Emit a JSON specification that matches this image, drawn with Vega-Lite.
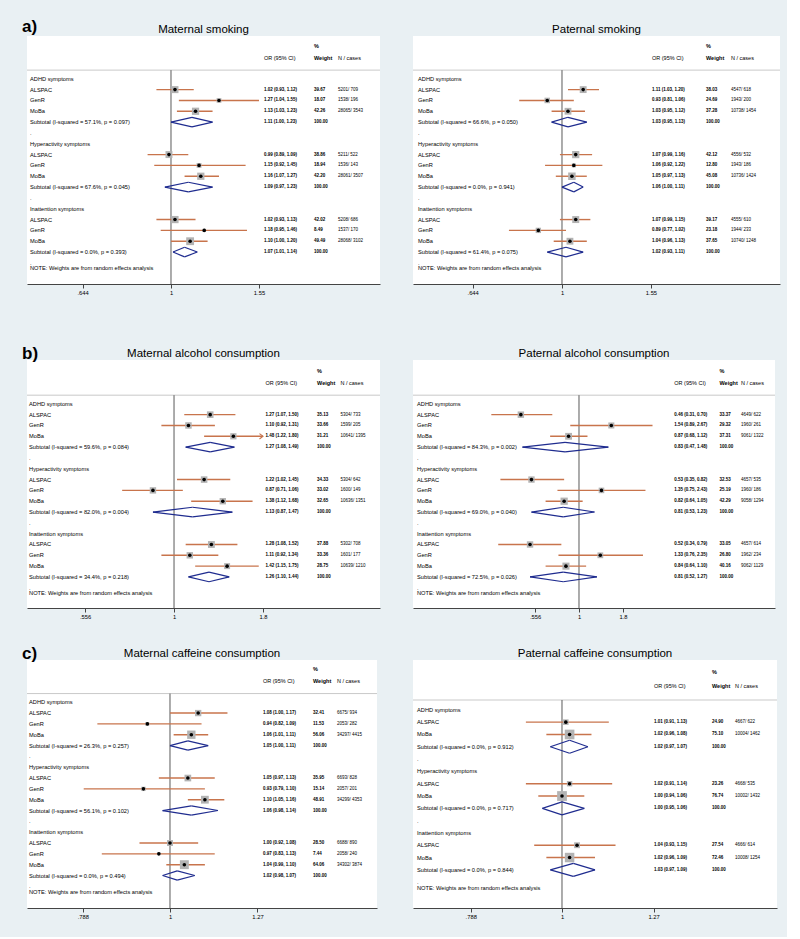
{
"$schema":"https://vega.github.io/schema/vega-lite/v6.json",
"background":"#e9f0f3",
"padding":{"left":22,"top":17,"right":6,"bottom":17},
"data":{"values":[
{"p":"a1","r":0,"t":"h","lab":"ADHD symptoms"},
{"p":"a1","r":1,"t":"c","lab":"ALSPAC","or":1.02,"lo":0.93,"hi":1.12,"est":"1.02 (0.93, 1.12)","w":39.67,"n":"5201/ 709"},
{"p":"a1","r":2,"t":"c","lab":"GenR","or":1.27,"lo":1.04,"hi":1.55,"est":"1.27 (1.04, 1.55)","w":18.07,"n":"1538/ 196"},
{"p":"a1","r":3,"t":"c","lab":"MoBa","or":1.13,"lo":1.03,"hi":1.23,"est":"1.13 (1.03, 1.23)","w":42.26,"n":"28065/ 3543"},
{"p":"a1","r":4,"t":"s","lab":"Subtotal  (I-squared = 57.1%, p = 0.097)","or":1.11,"lo":1.0,"hi":1.23,"est":"1.11 (1.00, 1.23)","w":100},
{"p":"a1","r":5,"t":"d","lab":"."},
{"p":"a1","r":6,"t":"h","lab":"Hyperactivity symptoms"},
{"p":"a1","r":7,"t":"c","lab":"ALSPAC","or":0.99,"lo":0.89,"hi":1.09,"est":"0.99 (0.89, 1.09)","w":38.86,"n":"5211/ 522"},
{"p":"a1","r":8,"t":"c","lab":"GenR","or":1.15,"lo":0.92,"hi":1.45,"est":"1.15 (0.92, 1.45)","w":18.94,"n":"1536/ 143"},
{"p":"a1","r":9,"t":"c","lab":"MoBa","or":1.16,"lo":1.07,"hi":1.27,"est":"1.16 (1.07, 1.27)","w":42.2,"n":"28061/ 3507"},
{"p":"a1","r":10,"t":"s","lab":"Subtotal  (I-squared = 67.6%, p = 0.045)","or":1.09,"lo":0.97,"hi":1.23,"est":"1.09 (0.97, 1.23)","w":100},
{"p":"a1","r":11,"t":"d","lab":"."},
{"p":"a1","r":12,"t":"h","lab":"Inattention symptoms"},
{"p":"a1","r":13,"t":"c","lab":"ALSPAC","or":1.02,"lo":0.93,"hi":1.13,"est":"1.02 (0.93, 1.13)","w":42.02,"n":"5208/ 686"},
{"p":"a1","r":14,"t":"c","lab":"GenR","or":1.18,"lo":0.95,"hi":1.46,"est":"1.18 (0.95, 1.46)","w":8.49,"n":"1537/ 170"},
{"p":"a1","r":15,"t":"c","lab":"MoBa","or":1.1,"lo":1.0,"hi":1.2,"est":"1.10 (1.00, 1.20)","w":49.49,"n":"28068/ 3102"},
{"p":"a1","r":16,"t":"s","lab":"Subtotal  (I-squared = 0.0%, p = 0.393)","or":1.07,"lo":1.01,"hi":1.14,"est":"1.07 (1.01, 1.14)","w":100},
{"p":"a1","r":17,"t":"d","lab":"."},
{"p":"a1","r":17.5,"t":"n","lab":"NOTE: Weights are from random effects analysis"},

{"p":"a2","r":0,"t":"h","lab":"ADHD symptoms"},
{"p":"a2","r":1,"t":"c","lab":"ALSPAC","or":1.11,"lo":1.03,"hi":1.2,"est":"1.11 (1.03, 1.20)","w":38.03,"n":"4547/ 618"},
{"p":"a2","r":2,"t":"c","lab":"GenR","or":0.93,"lo":0.81,"hi":1.06,"est":"0.93 (0.81, 1.06)","w":24.69,"n":"1943/ 200"},
{"p":"a2","r":3,"t":"c","lab":"MoBa","or":1.03,"lo":0.95,"hi":1.12,"est":"1.03 (0.95, 1.12)","w":37.28,"n":"10738/ 1454"},
{"p":"a2","r":4,"t":"s","lab":"Subtotal  (I-squared = 66.6%, p = 0.050)","or":1.03,"lo":0.95,"hi":1.13,"est":"1.03 (0.95, 1.13)","w":100},
{"p":"a2","r":5,"t":"d","lab":"."},
{"p":"a2","r":6,"t":"h","lab":"Hyperactivity symptoms"},
{"p":"a2","r":7,"t":"c","lab":"ALSPAC","or":1.07,"lo":0.99,"hi":1.16,"est":"1.07 (0.99, 1.16)","w":42.12,"n":"4556/ 532"},
{"p":"a2","r":8,"t":"c","lab":"GenR","or":1.06,"lo":0.92,"hi":1.22,"est":"1.06 (0.92, 1.22)","w":12.8,"n":"1943/ 186"},
{"p":"a2","r":9,"t":"c","lab":"MoBa","or":1.05,"lo":0.97,"hi":1.13,"est":"1.05 (0.97, 1.13)","w":45.08,"n":"10736/ 1424"},
{"p":"a2","r":10,"t":"s","lab":"Subtotal  (I-squared = 0.0%, p = 0.941)","or":1.06,"lo":1.0,"hi":1.11,"est":"1.06 (1.00, 1.11)","w":100},
{"p":"a2","r":11,"t":"d","lab":"."},
{"p":"a2","r":12,"t":"h","lab":"Inattention symptoms"},
{"p":"a2","r":13,"t":"c","lab":"ALSPAC","or":1.07,"lo":0.99,"hi":1.15,"est":"1.07 (0.99, 1.15)","w":39.17,"n":"4555/ 610"},
{"p":"a2","r":14,"t":"c","lab":"GenR","or":0.89,"lo":0.77,"hi":1.02,"est":"0.89 (0.77, 1.02)","w":23.18,"n":"1944/ 233"},
{"p":"a2","r":15,"t":"c","lab":"MoBa","or":1.04,"lo":0.96,"hi":1.13,"est":"1.04 (0.96, 1.13)","w":37.65,"n":"10740/ 1248"},
{"p":"a2","r":16,"t":"s","lab":"Subtotal  (I-squared = 61.4%, p = 0.075)","or":1.02,"lo":0.93,"hi":1.11,"est":"1.02 (0.93, 1.11)","w":100},
{"p":"a2","r":17,"t":"d","lab":"."},
{"p":"a2","r":17.5,"t":"n","lab":"NOTE: Weights are from random effects analysis"},

{"p":"b1","r":0,"t":"h","lab":"ADHD symptoms"},
{"p":"b1","r":1,"t":"c","lab":"ALSPAC","or":1.27,"lo":1.07,"hi":1.5,"est":"1.27 (1.07, 1.50)","w":35.13,"n":"5304/ 733"},
{"p":"b1","r":2,"t":"c","lab":"GenR","or":1.1,"lo":0.92,"hi":1.31,"est":"1.10 (0.92, 1.31)","w":33.66,"n":"1599/ 205"},
{"p":"b1","r":3,"t":"c","lab":"MoBa","or":1.48,"lo":1.22,"hi":1.8,"est":"1.48 (1.22, 1.80)","w":31.21,"n":"10641/ 1395"},
{"p":"b1","r":4,"t":"s","lab":"Subtotal  (I-squared = 59.6%, p = 0.084)","or":1.27,"lo":1.08,"hi":1.49,"est":"1.27 (1.08, 1.49)","w":100},
{"p":"b1","r":5,"t":"d","lab":"."},
{"p":"b1","r":6,"t":"h","lab":"Hyperactivity symptoms"},
{"p":"b1","r":7,"t":"c","lab":"ALSPAC","or":1.22,"lo":1.02,"hi":1.45,"est":"1.22 (1.02, 1.45)","w":34.33,"n":"5304/ 642"},
{"p":"b1","r":8,"t":"c","lab":"GenR","or":0.87,"lo":0.71,"hi":1.06,"est":"0.87 (0.71, 1.06)","w":33.02,"n":"1600/ 149"},
{"p":"b1","r":9,"t":"c","lab":"MoBa","or":1.38,"lo":1.12,"hi":1.68,"est":"1.38 (1.12, 1.68)","w":32.65,"n":"10636/ 1351"},
{"p":"b1","r":10,"t":"s","lab":"Subtotal  (I-squared = 82.0%, p = 0.004)","or":1.13,"lo":0.87,"hi":1.47,"est":"1.13 (0.87, 1.47)","w":100},
{"p":"b1","r":11,"t":"d","lab":"."},
{"p":"b1","r":12,"t":"h","lab":"Inattention symptoms"},
{"p":"b1","r":13,"t":"c","lab":"ALSPAC","or":1.28,"lo":1.08,"hi":1.52,"est":"1.28 (1.08, 1.52)","w":37.88,"n":"5302/ 708"},
{"p":"b1","r":14,"t":"c","lab":"GenR","or":1.11,"lo":0.92,"hi":1.34,"est":"1.11 (0.92, 1.34)","w":33.36,"n":"1601/ 177"},
{"p":"b1","r":15,"t":"c","lab":"MoBa","or":1.42,"lo":1.15,"hi":1.75,"est":"1.42 (1.15, 1.75)","w":28.75,"n":"10639/ 1210"},
{"p":"b1","r":16,"t":"s","lab":"Subtotal  (I-squared = 34.4%, p = 0.218)","or":1.26,"lo":1.1,"hi":1.44,"est":"1.26 (1.10, 1.44)","w":100},
{"p":"b1","r":17,"t":"d","lab":"."},
{"p":"b1","r":17.5,"t":"n","lab":"NOTE: Weights are from random effects analysis"},

{"p":"b2","r":0,"t":"h","lab":"ADHD symptoms"},
{"p":"b2","r":1,"t":"c","lab":"ALSPAC","or":0.46,"lo":0.31,"hi":0.7,"est":"0.46 (0.31, 0.70)","w":33.37,"n":"4649/ 622"},
{"p":"b2","r":2,"t":"c","lab":"GenR","or":1.54,"lo":0.89,"hi":2.67,"est":"1.54 (0.89, 2.67)","w":29.32,"n":"1960/ 261"},
{"p":"b2","r":3,"t":"c","lab":"MoBa","or":0.87,"lo":0.68,"hi":1.12,"est":"0.87 (0.68, 1.12)","w":37.31,"n":"9061/ 1322"},
{"p":"b2","r":4,"t":"s","lab":"Subtotal  (I-squared = 84.3%, p = 0.002)","or":0.83,"lo":0.47,"hi":1.48,"est":"0.83 (0.47, 1.48)","w":100},
{"p":"b2","r":5,"t":"d","lab":"."},
{"p":"b2","r":6,"t":"h","lab":"Hyperactivity symptoms"},
{"p":"b2","r":7,"t":"c","lab":"ALSPAC","or":0.53,"lo":0.35,"hi":0.82,"est":"0.53 (0.35, 0.82)","w":32.53,"n":"4657/ 535"},
{"p":"b2","r":8,"t":"c","lab":"GenR","or":1.35,"lo":0.75,"hi":2.43,"est":"1.35 (0.75, 2.43)","w":25.19,"n":"1960/ 186"},
{"p":"b2","r":9,"t":"c","lab":"MoBa","or":0.82,"lo":0.64,"hi":1.05,"est":"0.82 (0.64, 1.05)","w":42.29,"n":"9058/ 1294"},
{"p":"b2","r":10,"t":"s","lab":"Subtotal  (I-squared = 69.0%, p = 0.040)","or":0.81,"lo":0.53,"hi":1.23,"est":"0.81 (0.53, 1.23)","w":100},
{"p":"b2","r":11,"t":"d","lab":"."},
{"p":"b2","r":12,"t":"h","lab":"Inattention symptoms"},
{"p":"b2","r":13,"t":"c","lab":"ALSPAC","or":0.52,"lo":0.34,"hi":0.79,"est":"0.52 (0.34, 0.79)","w":33.05,"n":"4657/ 614"},
{"p":"b2","r":14,"t":"c","lab":"GenR","or":1.33,"lo":0.76,"hi":2.35,"est":"1.33 (0.76, 2.35)","w":26.8,"n":"1962/ 234"},
{"p":"b2","r":15,"t":"c","lab":"MoBa","or":0.84,"lo":0.64,"hi":1.1,"est":"0.84 (0.64, 1.10)","w":40.16,"n":"9062/ 1129"},
{"p":"b2","r":16,"t":"s","lab":"Subtotal  (I-squared = 72.5%, p = 0.026)","or":0.81,"lo":0.52,"hi":1.27,"est":"0.81 (0.52, 1.27)","w":100},
{"p":"b2","r":17,"t":"d","lab":"."},
{"p":"b2","r":17.5,"t":"n","lab":"NOTE: Weights are from random effects analysis"},

{"p":"c1","r":0,"t":"h","lab":"ADHD symptoms"},
{"p":"c1","r":1,"t":"c","lab":"ALSPAC","or":1.08,"lo":1.0,"hi":1.17,"est":"1.08 (1.00, 1.17)","w":32.41,"n":"6675/ 934"},
{"p":"c1","r":2,"t":"c","lab":"GenR","or":0.94,"lo":0.82,"hi":1.09,"est":"0.94 (0.82, 1.09)","w":11.53,"n":"2053/ 282"},
{"p":"c1","r":3,"t":"c","lab":"MoBa","or":1.06,"lo":1.01,"hi":1.11,"est":"1.06 (1.01, 1.11)","w":56.06,"n":"34297/ 4415"},
{"p":"c1","r":4,"t":"s","lab":"Subtotal  (I-squared = 26.3%, p = 0.257)","or":1.05,"lo":1.0,"hi":1.11,"est":"1.05 (1.00, 1.11)","w":100},
{"p":"c1","r":5,"t":"d","lab":"."},
{"p":"c1","r":6,"t":"h","lab":"Hyperactivity symptoms"},
{"p":"c1","r":7,"t":"c","lab":"ALSPAC","or":1.05,"lo":0.97,"hi":1.13,"est":"1.05 (0.97, 1.13)","w":35.95,"n":"6693/ 828"},
{"p":"c1","r":8,"t":"c","lab":"GenR","or":0.93,"lo":0.79,"hi":1.1,"est":"0.93 (0.79, 1.10)","w":15.14,"n":"2057/ 201"},
{"p":"c1","r":9,"t":"c","lab":"MoBa","or":1.1,"lo":1.05,"hi":1.16,"est":"1.10 (1.05, 1.16)","w":48.91,"n":"34299/ 4353"},
{"p":"c1","r":10,"t":"s","lab":"Subtotal  (I-squared = 56.1%, p = 0.102)","or":1.06,"lo":0.98,"hi":1.14,"est":"1.06 (0.98, 1.14)","w":100},
{"p":"c1","r":11,"t":"d","lab":"."},
{"p":"c1","r":12,"t":"h","lab":"Inattention symptoms"},
{"p":"c1","r":13,"t":"c","lab":"ALSPAC","or":1.0,"lo":0.92,"hi":1.08,"est":"1.00 (0.92, 1.08)","w":28.5,"n":"6688/ 890"},
{"p":"c1","r":14,"t":"c","lab":"GenR","or":0.97,"lo":0.83,"hi":1.13,"est":"0.97 (0.83, 1.13)","w":7.44,"n":"2058/ 240"},
{"p":"c1","r":15,"t":"c","lab":"MoBa","or":1.04,"lo":0.99,"hi":1.1,"est":"1.04 (0.99, 1.10)","w":64.06,"n":"34302/ 3874"},
{"p":"c1","r":16,"t":"s","lab":"Subtotal  (I-squared = 0.0%, p = 0.494)","or":1.02,"lo":0.98,"hi":1.07,"est":"1.02 (0.98, 1.07)","w":100},
{"p":"c1","r":17,"t":"d","lab":"."},
{"p":"c1","r":17.5,"t":"n","lab":"NOTE: Weights are from random effects analysis"},

{"p":"c2","r":0,"t":"h","lab":"ADHD symptoms"},
{"p":"c2","r":1,"t":"c","lab":"ALSPAC","or":1.01,"lo":0.91,"hi":1.13,"est":"1.01 (0.91, 1.13)","w":24.9,"n":"4667/ 622"},
{"p":"c2","r":2,"t":"c","lab":"MoBa","or":1.02,"lo":0.96,"hi":1.08,"est":"1.02 (0.96, 1.08)","w":75.1,"n":"10004/ 1462"},
{"p":"c2","r":3,"t":"s","lab":"Subtotal  (I-squared = 0.0%, p = 0.912)","or":1.02,"lo":0.97,"hi":1.07,"est":"1.02 (0.97, 1.07)","w":100},
{"p":"c2","r":4,"t":"d","lab":"."},
{"p":"c2","r":5,"t":"h","lab":"Hyperactivity symptoms"},
{"p":"c2","r":6,"t":"c","lab":"ALSPAC","or":1.02,"lo":0.91,"hi":1.14,"est":"1.02 (0.91, 1.14)","w":23.26,"n":"4668/ 535"},
{"p":"c2","r":7,"t":"c","lab":"MoBa","or":1.0,"lo":0.94,"hi":1.06,"est":"1.00 (0.94, 1.06)","w":76.74,"n":"10002/ 1432"},
{"p":"c2","r":8,"t":"s","lab":"Subtotal  (I-squared = 0.0%, p = 0.717)","or":1.0,"lo":0.95,"hi":1.06,"est":"1.00 (0.95, 1.06)","w":100},
{"p":"c2","r":9,"t":"d","lab":"."},
{"p":"c2","r":10,"t":"h","lab":"Inattention symptoms"},
{"p":"c2","r":11,"t":"c","lab":"ALSPAC","or":1.04,"lo":0.93,"hi":1.15,"est":"1.04 (0.93, 1.15)","w":27.54,"n":"4666/ 614"},
{"p":"c2","r":12,"t":"c","lab":"MoBa","or":1.02,"lo":0.96,"hi":1.09,"est":"1.02 (0.96, 1.09)","w":72.46,"n":"10008/ 1254"},
{"p":"c2","r":13,"t":"s","lab":"Subtotal  (I-squared = 0.0%, p = 0.844)","or":1.03,"lo":0.97,"hi":1.09,"est":"1.03 (0.97, 1.09)","w":100},
{"p":"c2","r":14,"t":"d","lab":"."},
{"p":"c2","r":14.5,"t":"n","lab":"NOTE: Weights are from random effects analysis"}
]},
"columns":2,
"spacing":{"row":52,"column":33},
"bounds":"flush",
"align":"each",
"concat":[
{"width":353,"height":248,
 "transform":[{"filter":"datum.p=='a1'"}],
 "resolve":{"axis":{"x":"independent"}},
 "encoding":{"y":{"field":"r","type":"quantitative","scale":{"domain":[-3.95,18.95],"reverse":true,"nice":false,"zero":false},"axis":null}},
 "layer":[
  {"transform":[{"filter":"datum.r==0"}],"mark":{"type":"rule","color":"#c9c9c9","strokeWidth":1},"encoding":{"x":{"datum":0.4882,"type":"quantitative","axis":null},"x2":{"datum":2.8316},"y":{"datum":-0.8}}},
  {"transform":[{"filter":"datum.r==0"}],"mark":{"type":"rule","color":"#5a5a5a","strokeWidth":1},"encoding":{"x":{"datum":1,"axis":null},"y":{"datum":-0.8},"y2":{"datum":18.95}}},
  {"transform":[{"filter":"datum.t=='c'"}],"mark":"rule","encoding":{"x":{"field":"lo","type":"quantitative","scale":{"type":"log","domain":[0.4882,2.8316],"nice":false},"axis":{"orient":"bottom","values":[0.644,1,1.55],"title":null,"labelExpr":"replace(format(datum.value, '~g'), '0.', '.')"}},"x2":{"field":"hi"}}},
  {"transform":[{"filter":"datum.t=='c'"}],"mark":{"type":"point","shape":"square","color":"#b3b3b3"},"encoding":{"x":{"field":"or","type":"quantitative","axis":null},"size":{"field":"w","type":"quantitative","scale":{"domain":[0,100],"range":[0,124]},"legend":null}}},
  {"transform":[{"filter":"datum.t=='c'"}],"mark":{"type":"point","shape":"circle","color":"#000","size":13},"encoding":{"x":{"field":"or","type":"quantitative","axis":null}}},
  {"transform":[{"filter":"datum.t=='s'"},{"fold":["lo","hi"],"as":["k","e"]}],"mark":{"type":"rule","color":"#1f2c8f","strokeWidth":1.2,"y2Offset":-4.8},"encoding":{"x":{"field":"e","type":"quantitative","axis":null},"x2":{"field":"or"},"y2":{"field":"r"}}},
  {"transform":[{"filter":"datum.t=='s'"},{"fold":["lo","hi"],"as":["k","e"]}],"mark":{"type":"rule","color":"#1f2c8f","strokeWidth":1.2,"y2Offset":4.8},"encoding":{"x":{"field":"e","type":"quantitative","axis":null},"x2":{"field":"or"},"y2":{"field":"r"}}},
  {"mark":"text","encoding":{"x":{"datum":0.4955,"axis":null},"text":{"field":"lab"}}},
  {"transform":[{"filter":"datum.t=='c'||datum.t=='s'"}],"mark":{"type":"text","fontSize":4.5,"fontWeight":"bold"},"encoding":{"x":{"datum":1.589,"axis":null},"text":{"field":"est"}}},
  {"transform":[{"filter":"datum.t=='c'||datum.t=='s'"}],"mark":{"type":"text","fontSize":4.5,"fontWeight":"bold"},"encoding":{"x":{"datum":2.0385,"axis":null},"text":{"field":"w","type":"quantitative","format":".2f"}}},
  {"transform":[{"filter":"datum.t=='c'"}],"mark":{"type":"text","fontSize":4.5},"encoding":{"x":{"datum":2.297,"axis":null},"text":{"field":"n"}}},
  {"transform":[{"filter":"datum.r==0"}],"mark":{"type":"text","fontSize":5.5,"fontWeight":"bold","text":"%"},"encoding":{"x":{"datum":2.0385,"axis":null},"y":{"datum":-3.05}}},
  {"transform":[{"filter":"datum.r==0"}],"mark":{"type":"text","fontSize":5.5,"text":"OR (95% CI)"},"encoding":{"x":{"datum":1.589,"axis":null},"y":{"datum":-1.95}}},
  {"transform":[{"filter":"datum.r==0"}],"mark":{"type":"text","fontSize":5.5,"fontWeight":"bold","text":"Weight"},"encoding":{"x":{"datum":2.0385,"axis":null},"y":{"datum":-1.95}}},
  {"transform":[{"filter":"datum.r==0"}],"mark":{"type":"text","fontSize":5.5,"text":"N / cases"},"encoding":{"x":{"datum":2.297,"axis":null},"y":{"datum":-1.95}}},
  {"transform":[{"filter":"datum.r==0"}],"mark":{"type":"text","fontSize":11.5,"align":"center","baseline":"alphabetic","dy":-3.3,"text":"Maternal smoking"},"encoding":{"x":{"datum":1.1758,"axis":null},"y":{"datum":-3.95}}},
  {"transform":[{"filter":"datum.r==0"}],"mark":{"type":"text","fontSize":17,"fontWeight":"bold","baseline":"alphabetic","dx":-5,"dy":-4.5,"text":"a)"},"encoding":{"x":{"datum":0.4882,"axis":null},"y":{"datum":-3.95}}}
 ]},
{"width":367,"height":248,
 "transform":[{"filter":"datum.p=='a2'"}],
 "resolve":{"axis":{"x":"independent"}},
 "encoding":{"y":{"field":"r","type":"quantitative","scale":{"domain":[-3.95,18.95],"reverse":true,"nice":false,"zero":false},"axis":null}},
 "layer":[
  {"transform":[{"filter":"datum.r==0"}],"mark":{"type":"rule","color":"#c9c9c9","strokeWidth":1},"encoding":{"x":{"datum":0.48,"type":"quantitative","axis":null},"x2":{"datum":2.927},"y":{"datum":-0.8}}},
  {"transform":[{"filter":"datum.r==0"}],"mark":{"type":"rule","color":"#5a5a5a","strokeWidth":1},"encoding":{"x":{"datum":1,"axis":null},"y":{"datum":-0.8},"y2":{"datum":18.95}}},
  {"transform":[{"filter":"datum.t=='c'"}],"mark":"rule","encoding":{"x":{"field":"lo","type":"quantitative","scale":{"type":"log","domain":[0.48,2.927],"nice":false},"axis":{"orient":"bottom","values":[0.644,1,1.55],"title":null,"labelExpr":"replace(format(datum.value, '~g'), '0.', '.')"}},"x2":{"field":"hi"}}},
  {"transform":[{"filter":"datum.t=='c'"}],"mark":{"type":"point","shape":"square","color":"#b3b3b3"},"encoding":{"x":{"field":"or","type":"quantitative","axis":null},"size":{"field":"w","type":"quantitative","scale":{"domain":[0,100],"range":[0,118]},"legend":null}}},
  {"transform":[{"filter":"datum.t=='c'"}],"mark":{"type":"point","shape":"circle","color":"#000","size":13},"encoding":{"x":{"field":"or","type":"quantitative","axis":null}}},
  {"transform":[{"filter":"datum.t=='s'"},{"fold":["lo","hi"],"as":["k","e"]}],"mark":{"type":"rule","color":"#1f2c8f","strokeWidth":1.2,"y2Offset":-4.8},"encoding":{"x":{"field":"e","type":"quantitative","axis":null},"x2":{"field":"or"},"y2":{"field":"r"}}},
  {"transform":[{"filter":"datum.t=='s'"},{"fold":["lo","hi"],"as":["k","e"]}],"mark":{"type":"rule","color":"#1f2c8f","strokeWidth":1.2,"y2Offset":4.8},"encoding":{"x":{"field":"e","type":"quantitative","axis":null},"x2":{"field":"or"},"y2":{"field":"r"}}},
  {"mark":"text","encoding":{"x":{"datum":0.492,"axis":null},"text":{"field":"lab"}}},
  {"transform":[{"filter":"datum.t=='c'||datum.t=='s'"}],"mark":{"type":"text","fontSize":4.5,"fontWeight":"bold"},"encoding":{"x":{"datum":1.558,"axis":null},"text":{"field":"est"}}},
  {"transform":[{"filter":"datum.t=='c'||datum.t=='s'"}],"mark":{"type":"text","fontSize":4.5,"fontWeight":"bold"},"encoding":{"x":{"datum":2.033,"axis":null},"text":{"field":"w","type":"quantitative","format":".2f"}}},
  {"transform":[{"filter":"datum.t=='c'"}],"mark":{"type":"text","fontSize":4.5},"encoding":{"x":{"datum":2.299,"axis":null},"text":{"field":"n"}}},
  {"transform":[{"filter":"datum.r==0"}],"mark":{"type":"text","fontSize":5.5,"fontWeight":"bold","text":"%"},"encoding":{"x":{"datum":2.033,"axis":null},"y":{"datum":-3.05}}},
  {"transform":[{"filter":"datum.r==0"}],"mark":{"type":"text","fontSize":5.5,"text":"OR (95% CI)"},"encoding":{"x":{"datum":1.558,"axis":null},"y":{"datum":-1.95}}},
  {"transform":[{"filter":"datum.r==0"}],"mark":{"type":"text","fontSize":5.5,"fontWeight":"bold","text":"Weight"},"encoding":{"x":{"datum":2.033,"axis":null},"y":{"datum":-1.95}}},
  {"transform":[{"filter":"datum.r==0"}],"mark":{"type":"text","fontSize":5.5,"text":"N / cases"},"encoding":{"x":{"datum":2.299,"axis":null},"y":{"datum":-1.95}}},
  {"transform":[{"filter":"datum.r==0"}],"mark":{"type":"text","fontSize":11.5,"align":"center","baseline":"alphabetic","dy":-3.3,"text":"Paternal smoking"},"encoding":{"x":{"datum":1.1853,"axis":null},"y":{"datum":-3.95}}}
 ]},
{"width":353,"height":272,
 "view":{"fill":"white","fillOpacity":0,"stroke":null},
 "transform":[{"filter":"datum.p=='b1'"}],
 "resolve":{"axis":{"x":"independent"}},
 "encoding":{"y":{"field":"r","type":"quantitative","scale":{"domain":[-6.27,18.87],"reverse":true,"nice":false,"zero":false},"axis":null}},
 "layer":[
  {"transform":[{"filter":"datum.r==0"}],"mark":{"type":"rect","color":"white"},"encoding":{"x":{"datum":0.3787,"type":"quantitative","scale":{"type":"log","domain":[0.3787,3.898],"nice":false},"axis":{"orient":"bottom","values":[0.556,1,1.8],"title":null,"labelExpr":"replace(format(datum.value, '~g'), '0.', '.')"}},"x2":{"datum":3.898},"y":{"datum":-4.05},"y2":{"datum":18.87}}},
  {"transform":[{"filter":"datum.r==0"}],"mark":{"type":"rule","color":"#c9c9c9","strokeWidth":1},"encoding":{"x":{"datum":0.3787,"axis":null},"x2":{"datum":3.898},"y":{"datum":-0.8}}},
  {"transform":[{"filter":"datum.r==0"}],"mark":{"type":"rule","color":"#5a5a5a","strokeWidth":1},"encoding":{"x":{"datum":1,"axis":null},"y":{"datum":-0.8},"y2":{"datum":18.87}}},
  {"transform":[{"filter":"datum.t=='c'"}],"mark":"rule","encoding":{"x":{"field":"lo","type":"quantitative","axis":null},"x2":{"field":"hi"}}},
  {"transform":[{"filter":"datum.r==3"}],"mark":{"type":"point","shape":"M-1,-0.75L0,0L-1,0.75","filled":false,"color":"#c57650","strokeWidth":1.1,"size":50},"encoding":{"x":{"field":"hi","type":"quantitative","axis":null}}},
  {"transform":[{"filter":"datum.t=='c'"}],"mark":{"type":"point","shape":"square","color":"#b3b3b3"},"encoding":{"x":{"field":"or","type":"quantitative","axis":null},"size":{"field":"w","type":"quantitative","scale":{"domain":[0,100],"range":[0,15]},"legend":null}}},
  {"transform":[{"filter":"datum.t=='c'"}],"mark":{"type":"point","shape":"circle","color":"#000","size":13},"encoding":{"x":{"field":"or","type":"quantitative","axis":null}}},
  {"transform":[{"filter":"datum.t=='s'"},{"fold":["lo","hi"],"as":["k","e"]}],"mark":{"type":"rule","color":"#1f2c8f","strokeWidth":1.2,"y2Offset":-4.8},"encoding":{"x":{"field":"e","type":"quantitative","axis":null},"x2":{"field":"or"},"y2":{"field":"r"}}},
  {"transform":[{"filter":"datum.t=='s'"},{"fold":["lo","hi"],"as":["k","e"]}],"mark":{"type":"rule","color":"#1f2c8f","strokeWidth":1.2,"y2Offset":4.8},"encoding":{"x":{"field":"e","type":"quantitative","axis":null},"x2":{"field":"or"},"y2":{"field":"r"}}},
  {"mark":"text","encoding":{"x":{"datum":0.3838,"axis":null},"text":{"field":"lab"}}},
  {"transform":[{"filter":"datum.t=='c'||datum.t=='s'"}],"mark":{"type":"text","fontSize":4.5,"fontWeight":"bold"},"encoding":{"x":{"datum":1.83,"axis":null},"text":{"field":"est"}}},
  {"transform":[{"filter":"datum.t=='c'||datum.t=='s'"}],"mark":{"type":"text","fontSize":4.5,"fontWeight":"bold"},"encoding":{"x":{"datum":2.572,"axis":null},"text":{"field":"w","type":"quantitative","format":".2f"}}},
  {"transform":[{"filter":"datum.t=='c'"}],"mark":{"type":"text","fontSize":4.5},"encoding":{"x":{"datum":3.003,"axis":null},"text":{"field":"n"}}},
  {"transform":[{"filter":"datum.r==0"}],"mark":{"type":"text","fontSize":5.5,"fontWeight":"bold","text":"%"},"encoding":{"x":{"datum":2.572,"axis":null},"y":{"datum":-3.05}}},
  {"transform":[{"filter":"datum.r==0"}],"mark":{"type":"text","fontSize":5.5,"text":"OR (95% CI)"},"encoding":{"x":{"datum":1.83,"axis":null},"y":{"datum":-1.95}}},
  {"transform":[{"filter":"datum.r==0"}],"mark":{"type":"text","fontSize":5.5,"fontWeight":"bold","text":"Weight"},"encoding":{"x":{"datum":2.572,"axis":null},"y":{"datum":-1.95}}},
  {"transform":[{"filter":"datum.r==0"}],"mark":{"type":"text","fontSize":5.5,"text":"N / cases"},"encoding":{"x":{"datum":3.003,"axis":null},"y":{"datum":-1.95}}},
  {"transform":[{"filter":"datum.r==0"}],"mark":{"type":"text","fontSize":11.5,"align":"center","baseline":"alphabetic","dy":-3.3,"text":"Maternal alcohol consumption"},"encoding":{"x":{"datum":1.215,"axis":null},"y":{"datum":-4.05}}},
  {"transform":[{"filter":"datum.r==0"}],"mark":{"type":"text","fontSize":17,"fontWeight":"bold","baseline":"alphabetic","dx":-5,"dy":-1.5,"text":"b)"},"encoding":{"x":{"datum":0.3787,"axis":null},"y":{"datum":-4.05}}}
 ]},
{"width":362,"height":272,
 "view":{"fill":"white","fillOpacity":0,"stroke":null},
 "transform":[{"filter":"datum.p=='b2'"}],
 "resolve":{"axis":{"x":"independent"}},
 "encoding":{"y":{"field":"r","type":"quantitative","scale":{"domain":[-6.27,18.87],"reverse":true,"nice":false,"zero":false},"axis":null}},
 "layer":[
  {"transform":[{"filter":"datum.r==0"}],"mark":{"type":"rect","color":"white"},"encoding":{"x":{"datum":0.1089,"type":"quantitative","axis":null},"x2":{"datum":13.71},"y":{"datum":-4.05},"y2":{"datum":18.87}}},
  {"transform":[{"filter":"datum.r==0"}],"mark":{"type":"rule","color":"#c9c9c9","strokeWidth":1},"encoding":{"x":{"datum":0.1089,"axis":null},"x2":{"datum":13.71},"y":{"datum":-0.8}}},
  {"transform":[{"filter":"datum.r==0"}],"mark":{"type":"rule","color":"#5a5a5a","strokeWidth":1},"encoding":{"x":{"datum":1,"axis":null},"y":{"datum":-0.8},"y2":{"datum":18.87}}},
  {"transform":[{"filter":"datum.t=='c'"}],"mark":"rule","encoding":{"x":{"field":"lo","type":"quantitative","scale":{"type":"log","domain":[0.1089,13.71],"nice":false},"axis":{"orient":"bottom","values":[0.556,1,1.8],"title":null,"labelExpr":"replace(format(datum.value, '~g'), '0.', '.')"}},"x2":{"field":"hi"}}},
  {"transform":[{"filter":"datum.t=='c'"}],"mark":{"type":"point","shape":"square","color":"#b3b3b3"},"encoding":{"x":{"field":"or","type":"quantitative","axis":null},"size":{"field":"w","type":"quantitative","scale":{"domain":[0,100],"range":[0,55]},"legend":null}}},
  {"transform":[{"filter":"datum.t=='c'"}],"mark":{"type":"point","shape":"circle","color":"#000","size":13},"encoding":{"x":{"field":"or","type":"quantitative","axis":null}}},
  {"transform":[{"filter":"datum.t=='s'"},{"fold":["lo","hi"],"as":["k","e"]}],"mark":{"type":"rule","color":"#1f2c8f","strokeWidth":1.2,"y2Offset":-4.8},"encoding":{"x":{"field":"e","type":"quantitative","axis":null},"x2":{"field":"or"},"y2":{"field":"r"}}},
  {"transform":[{"filter":"datum.t=='s'"},{"fold":["lo","hi"],"as":["k","e"]}],"mark":{"type":"rule","color":"#1f2c8f","strokeWidth":1.2,"y2Offset":4.8},"encoding":{"x":{"field":"e","type":"quantitative","axis":null},"x2":{"field":"or"},"y2":{"field":"r"}}},
  {"mark":"text","encoding":{"x":{"datum":0.1149,"axis":null},"text":{"field":"lab"}}},
  {"transform":[{"filter":"datum.t=='c'||datum.t=='s'"}],"mark":{"type":"text","fontSize":4.5,"fontWeight":"bold"},"encoding":{"x":{"datum":3.572,"axis":null},"text":{"field":"est"}}},
  {"transform":[{"filter":"datum.t=='c'||datum.t=='s'"}],"mark":{"type":"text","fontSize":4.5,"fontWeight":"bold"},"encoding":{"x":{"datum":6.533,"axis":null},"text":{"field":"w","type":"quantitative","format":".2f"}}},
  {"transform":[{"filter":"datum.t=='c'"}],"mark":{"type":"text","fontSize":4.5},"encoding":{"x":{"datum":8.706,"axis":null},"text":{"field":"n"}}},
  {"transform":[{"filter":"datum.r==0"}],"mark":{"type":"text","fontSize":5.5,"fontWeight":"bold","text":"%"},"encoding":{"x":{"datum":6.533,"axis":null},"y":{"datum":-3.05}}},
  {"transform":[{"filter":"datum.r==0"}],"mark":{"type":"text","fontSize":5.5,"text":"OR (95% CI)"},"encoding":{"x":{"datum":3.572,"axis":null},"y":{"datum":-1.95}}},
  {"transform":[{"filter":"datum.r==0"}],"mark":{"type":"text","fontSize":5.5,"fontWeight":"bold","text":"Weight"},"encoding":{"x":{"datum":6.533,"axis":null},"y":{"datum":-1.95}}},
  {"transform":[{"filter":"datum.r==0"}],"mark":{"type":"text","fontSize":5.5,"text":"N / cases"},"encoding":{"x":{"datum":8.706,"axis":null},"y":{"datum":-1.95}}},
  {"transform":[{"filter":"datum.r==0"}],"mark":{"type":"text","fontSize":11.5,"align":"center","baseline":"alphabetic","dy":-3.3,"text":"Paternal alcohol consumption"},"encoding":{"x":{"datum":1.222,"axis":null},"y":{"datum":-4.05}}}
 ]},
{"width":350,"height":248,
 "transform":[{"filter":"datum.p=='c1'"}],
 "resolve":{"axis":{"x":"independent"}},
 "encoding":{"y":{"field":"r","type":"quantitative","scale":{"domain":[-3.9,19.0],"reverse":true,"nice":false,"zero":false},"axis":null}},
 "layer":[
  {"transform":[{"filter":"datum.r==0"}],"mark":{"type":"rule","color":"#c9c9c9","strokeWidth":1},"encoding":{"x":{"datum":0.6766,"type":"quantitative","axis":null},"x2":{"datum":1.7604},"y":{"datum":-0.8}}},
  {"transform":[{"filter":"datum.r==0"}],"mark":{"type":"rule","color":"#5a5a5a","strokeWidth":1},"encoding":{"x":{"datum":1,"axis":null},"y":{"datum":-0.8},"y2":{"datum":19.0}}},
  {"transform":[{"filter":"datum.t=='c'"}],"mark":"rule","encoding":{"x":{"field":"lo","type":"quantitative","scale":{"type":"log","domain":[0.6766,1.7604],"nice":false},"axis":{"orient":"bottom","values":[0.788,1,1.27],"title":null,"labelExpr":"replace(format(datum.value, '~g'), '0.', '.')"}},"x2":{"field":"hi"}}},
  {"transform":[{"filter":"datum.t=='c'"}],"mark":{"type":"point","shape":"square","color":"#b3b3b3"},"encoding":{"x":{"field":"or","type":"quantitative","axis":null},"size":{"field":"w","type":"quantitative","scale":{"domain":[0,100],"range":[0,123]},"legend":null}}},
  {"transform":[{"filter":"datum.t=='c'"}],"mark":{"type":"point","shape":"circle","color":"#000","size":13},"encoding":{"x":{"field":"or","type":"quantitative","axis":null}}},
  {"transform":[{"filter":"datum.t=='s'"},{"fold":["lo","hi"],"as":["k","e"]}],"mark":{"type":"rule","color":"#1f2c8f","strokeWidth":1.2,"y2Offset":-4.6},"encoding":{"x":{"field":"e","type":"quantitative","axis":null},"x2":{"field":"or"},"y2":{"field":"r"}}},
  {"transform":[{"filter":"datum.t=='s'"},{"fold":["lo","hi"],"as":["k","e"]}],"mark":{"type":"rule","color":"#1f2c8f","strokeWidth":1.2,"y2Offset":4.6},"encoding":{"x":{"field":"e","type":"quantitative","axis":null},"x2":{"field":"or"},"y2":{"field":"r"}}},
  {"mark":"text","encoding":{"x":{"datum":0.6803,"axis":null},"text":{"field":"lab"}}},
  {"transform":[{"filter":"datum.t=='c'||datum.t=='s'"}],"mark":{"type":"text","fontSize":4.5,"fontWeight":"bold"},"encoding":{"x":{"datum":1.2893,"axis":null},"text":{"field":"est"}}},
  {"transform":[{"filter":"datum.t=='c'||datum.t=='s'"}],"mark":{"type":"text","fontSize":4.5,"fontWeight":"bold"},"encoding":{"x":{"datum":1.478,"axis":null},"text":{"field":"w","type":"quantitative","format":".2f"}}},
  {"transform":[{"filter":"datum.t=='c'"}],"mark":{"type":"text","fontSize":4.5},"encoding":{"x":{"datum":1.578,"axis":null},"text":{"field":"n"}}},
  {"transform":[{"filter":"datum.r==0"}],"mark":{"type":"text","fontSize":5.5,"fontWeight":"bold","text":"%"},"encoding":{"x":{"datum":1.478,"axis":null},"y":{"datum":-3.05}}},
  {"transform":[{"filter":"datum.r==0"}],"mark":{"type":"text","fontSize":5.5,"text":"OR (95% CI)"},"encoding":{"x":{"datum":1.2893,"axis":null},"y":{"datum":-1.95}}},
  {"transform":[{"filter":"datum.r==0"}],"mark":{"type":"text","fontSize":5.5,"fontWeight":"bold","text":"Weight"},"encoding":{"x":{"datum":1.478,"axis":null},"y":{"datum":-1.95}}},
  {"transform":[{"filter":"datum.r==0"}],"mark":{"type":"text","fontSize":5.5,"text":"N / cases"},"encoding":{"x":{"datum":1.578,"axis":null},"y":{"datum":-1.95}}},
  {"transform":[{"filter":"datum.r==0"}],"mark":{"type":"text","fontSize":11.5,"align":"center","baseline":"alphabetic","dy":-3.3,"text":"Maternal caffeine consumption"},"encoding":{"x":{"datum":1.0914,"axis":null},"y":{"datum":-3.9}}},
  {"transform":[{"filter":"datum.r==0"}],"mark":{"type":"text","fontSize":17,"fontWeight":"bold","baseline":"alphabetic","dx":-5,"dy":-1.5,"text":"c)"},"encoding":{"x":{"datum":0.6766,"axis":null},"y":{"datum":-3.9}}}
 ]},
{"width":364,"height":248,
 "transform":[{"filter":"datum.p=='c2'"}],
 "resolve":{"axis":{"x":"independent"}},
 "encoding":{"y":{"field":"r","type":"quantitative","scale":{"domain":[-4.05,16.1],"reverse":true,"nice":false,"zero":false},"axis":null}},
 "layer":[
  {"transform":[{"filter":"datum.r==0"}],"mark":{"type":"rule","color":"#c9c9c9","strokeWidth":1},"encoding":{"x":{"datum":0.6777,"type":"quantitative","axis":null},"x2":{"datum":1.7531},"y":{"datum":-0.8}}},
  {"transform":[{"filter":"datum.r==0"}],"mark":{"type":"rule","color":"#5a5a5a","strokeWidth":1},"encoding":{"x":{"datum":1,"axis":null},"y":{"datum":-0.8},"y2":{"datum":16.1}}},
  {"transform":[{"filter":"datum.t=='c'"}],"mark":"rule","encoding":{"x":{"field":"lo","type":"quantitative","scale":{"type":"log","domain":[0.6777,1.7531],"nice":false},"axis":{"orient":"bottom","values":[0.788,1,1.27],"title":null,"labelExpr":"replace(format(datum.value, '~g'), '0.', '.')"}},"x2":{"field":"hi"}}},
  {"transform":[{"filter":"datum.t=='c'"}],"mark":{"type":"point","shape":"square","color":"#b3b3b3"},"encoding":{"x":{"field":"or","type":"quantitative","axis":null},"size":{"field":"w","type":"quantitative","scale":{"domain":[0,100],"range":[0,50]},"legend":null}}},
  {"transform":[{"filter":"datum.t=='c'"}],"mark":{"type":"point","shape":"circle","color":"#000","size":13},"encoding":{"x":{"field":"or","type":"quantitative","axis":null}}},
  {"transform":[{"filter":"datum.t=='s'"},{"fold":["lo","hi"],"as":["k","e"]}],"mark":{"type":"rule","color":"#1f2c8f","strokeWidth":1.2,"y2Offset":-6.5},"encoding":{"x":{"field":"e","type":"quantitative","axis":null},"x2":{"field":"or"},"y2":{"field":"r"}}},
  {"transform":[{"filter":"datum.t=='s'"},{"fold":["lo","hi"],"as":["k","e"]}],"mark":{"type":"rule","color":"#1f2c8f","strokeWidth":1.2,"y2Offset":6.5},"encoding":{"x":{"field":"e","type":"quantitative","axis":null},"x2":{"field":"or"},"y2":{"field":"r"}}},
  {"mark":"text","encoding":{"x":{"datum":0.6848,"axis":null},"text":{"field":"lab"}}},
  {"transform":[{"filter":"datum.t=='c'||datum.t=='s'"}],"mark":{"type":"text","fontSize":4.5,"fontWeight":"bold"},"encoding":{"x":{"datum":1.2715,"axis":null},"text":{"field":"est"}}},
  {"transform":[{"filter":"datum.t=='c'||datum.t=='s'"}],"mark":{"type":"text","fontSize":4.5,"fontWeight":"bold"},"encoding":{"x":{"datum":1.4794,"axis":null},"text":{"field":"w","type":"quantitative","format":".2f"}}},
  {"transform":[{"filter":"datum.t=='c'"}],"mark":{"type":"text","fontSize":4.5},"encoding":{"x":{"datum":1.571,"axis":null},"text":{"field":"n"}}},
  {"transform":[{"filter":"datum.r==0"}],"mark":{"type":"text","fontSize":5.5,"fontWeight":"bold","text":"%"},"encoding":{"x":{"datum":1.4794,"axis":null},"y":{"datum":-3.05}}},
  {"transform":[{"filter":"datum.r==0"}],"mark":{"type":"text","fontSize":5.5,"text":"OR (95% CI)"},"encoding":{"x":{"datum":1.2715,"axis":null},"y":{"datum":-1.95}}},
  {"transform":[{"filter":"datum.r==0"}],"mark":{"type":"text","fontSize":5.5,"fontWeight":"bold","text":"Weight"},"encoding":{"x":{"datum":1.4794,"axis":null},"y":{"datum":-1.95}}},
  {"transform":[{"filter":"datum.r==0"}],"mark":{"type":"text","fontSize":5.5,"text":"N / cases"},"encoding":{"x":{"datum":1.571,"axis":null},"y":{"datum":-1.95}}},
  {"transform":[{"filter":"datum.r==0"}],"mark":{"type":"text","fontSize":11.5,"align":"center","baseline":"alphabetic","dy":-3.3,"text":"Paternal caffeine consumption"},"encoding":{"x":{"datum":1.09,"axis":null},"y":{"datum":-4.05}}}
 ]}
],
"config":{
 "view":{"fill":"white","stroke":null},
 "text":{"font":"Liberation Sans","fontSize":5.7,"baseline":"middle","align":"left","color":"#000"},
 "rule":{"color":"#c8744c","strokeWidth":1.4},
 "point":{"filled":true,"opacity":1,"strokeWidth":0},
 "axisX":{"grid":false,"domainColor":"#444","domainWidth":1,"tickColor":"#444","tickSize":4,"tickWidth":1,"labelFont":"Liberation Sans","labelFontSize":5.8,"labelColor":"#000","labelPadding":1.5,"labelFlush":false,"labelOverlap":false,"labelBound":false}
}
}
